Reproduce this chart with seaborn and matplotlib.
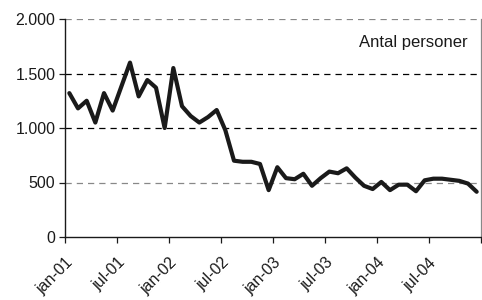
import matplotlib
matplotlib.use("Agg")
import matplotlib.pyplot as plt
import seaborn as sns
import pandas as pd
import numpy as np

# Monthly values, jan-01 .. dec-04
values = [1320, 1180, 1250, 1050, 1320, 1160, 1380, 1600, 1290, 1440, 1370, 1000,
          1550, 1200, 1110, 1050, 1100, 1165, 980, 700, 690, 690, 670, 430,
          640, 540, 530, 580, 470, 540, 600, 585, 630, 545, 470, 440,
          505, 430, 480, 480, 420, 520, 535, 535, 525, 515, 490, 415]
tick_labels = ["jan-01", "jul-01", "jan-02", "jul-02", "jan-03", "jul-03", "jan-04", "jul-04", ""]
y_ticks = [0, 500, 1000, 1500, 2000]
y_tick_labels = ["0", "500", "1.000", "1.500", "2.000"]
series_label = "Antal personer"

df = pd.DataFrame({"month": np.arange(len(values)), "value": values})

sns.set_theme(style="ticks")
plt.rcParams["font.family"] = ["Liberation Sans", "DejaVu Sans"]

fig = plt.figure(figsize=(4.82, 3.0), dpi=100)
ax = fig.add_axes([65 / 482, 1 - 237 / 300, 416 / 482, 218 / 300])

# gridlines
for yv in y_ticks[1:]:
    col = "#000000" if yv in (1000, 1500) else "#888888"
    ax.axhline(yv, color=col, lw=0.9, ls=(0, (5, 4)), zorder=1)

sns.lineplot(data=df, x="month", y="value", ax=ax, color="#1a1a1a", lw=3.0,
             solid_joinstyle="round", solid_capstyle="round", zorder=3)

ax.set_xlim(-0.5, len(values) - 0.5)
ax.set_ylim(0, 2000)
ax.set_yticks(y_ticks)
ax.set_yticklabels(y_tick_labels, fontsize=11.5, color="#1a1a1a")
xt = np.arange(-0.5, len(values), 6)
ax.set_xticks(xt)
ax.set_xticklabels(tick_labels, fontsize=11.5, color="#1a1a1a", rotation=45,
                   ha="right", va="top", rotation_mode="anchor")
ax.tick_params(axis="both", direction="out", length=4, width=0.9, color="#1a1a1a", pad=3)
ax.tick_params(axis="x", pad=9)
ax.set_xlabel("")
ax.set_ylabel("")

for s in ["left", "bottom"]:
    ax.spines[s].set_color("#1a1a1a")
    ax.spines[s].set_linewidth(1.0)
ax.spines["top"].set_visible(False)
ax.spines["right"].set_visible(True)
ax.spines["right"].set_color("#888888")
ax.spines["right"].set_linewidth(0.9)

ax.text(0.969, 0.89, series_label, transform=ax.transAxes, ha="right", va="center",
        fontsize=12, color="#1a1a1a")

fig.savefig("out.png", dpi=100)
